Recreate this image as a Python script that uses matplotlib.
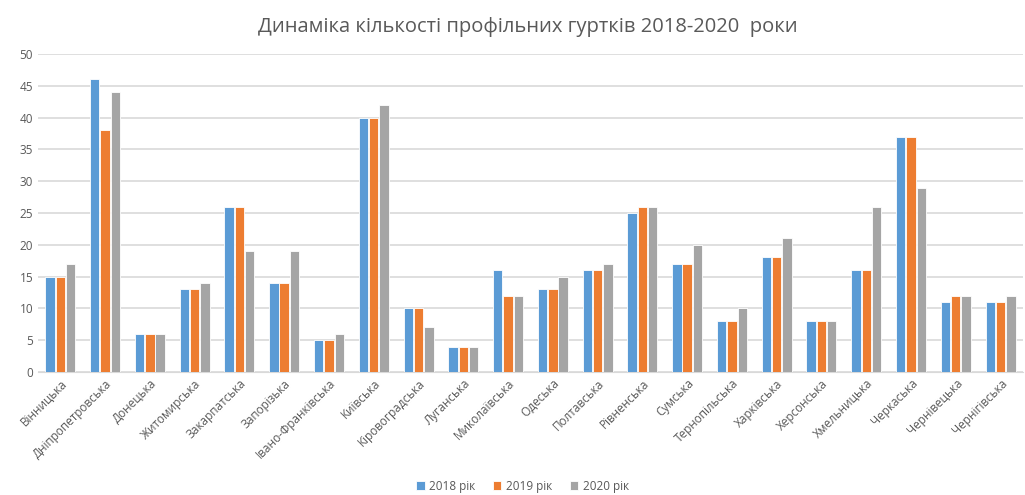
import numpy as np
import matplotlib
matplotlib.use("Agg")
import matplotlib.pyplot as plt

plt.rcParams['font.family'] = ['Open Sans', 'DejaVu Sans']

regions = ["Вінницька", "Дніпропетровська", "Донецька", "Житомирська", "Закарпатська",
           "Запорізька", "Івано-Франківська", "Київська", "Кіровоградська", "Луганська",
           "Миколаївська", "Одеська", "Полтавська", "Рівненська", "Сумська",
           "Тернопільська", "Харківська", "Херсонська", "Хмельницька", "Черкаська",
           "Чернівецька", "Чернігівська"]
y2018 = [15, 46, 6, 13, 26, 14, 5, 40, 10, 4, 16, 13, 16, 25, 17, 8, 18, 8, 16, 37, 11, 11]
y2019 = [15, 38, 6, 13, 26, 14, 5, 40, 10, 4, 12, 13, 16, 26, 17, 8, 18, 8, 16, 37, 12, 11]
y2020 = [17, 44, 6, 14, 19, 19, 6, 42, 7, 4, 12, 15, 17, 26, 20, 10, 21, 8, 26, 29, 12, 12]
series = ["2018 рік", "2019 рік", "2020 рік"]
colors = ["#5b9bd5", "#ed7d31", "#a5a5a5"]

fig = plt.figure(figsize=(10.25, 4.95), dpi=100)
ax = fig.add_axes([0.037, 0.2485, 0.961, 0.6425])

x = np.arange(len(regions))
w = 0.21
for i, (vals, name, c) in enumerate(zip([y2018, y2019, y2020], series, colors)):
    ax.bar(x + (i - 1) * (w + 0.02), vals, w, color=c, edgecolor='white',
           linewidth=0.6, label=name, zorder=3)

ax.set_ylim(0, 50)
ax.set_xlim(-0.5, len(regions) - 0.5)
ax.set_yticks(range(0, 51, 5))
ax.grid(axis='y', color='#d9d9d9', linewidth=1.2, zorder=0)
for s in ['top', 'right', 'left']:
    ax.spines[s].set_visible(False)
ax.spines['bottom'].set_color('#d9d9d9')
ax.tick_params(axis='both', length=0, labelsize=8.5, labelcolor='#595959')
ax.set_xticks(x)
ax.set_xticklabels(regions, rotation=45, ha='right', rotation_mode='anchor')

fig.text(0.515, 0.945, "Динаміка кількості профільних гуртків 2018-2020  роки",
         ha='center', va='center', fontsize=14.5, color='#595959')

fig.legend(loc='center', bbox_to_anchor=(0.51, 0.018), ncol=3, frameon=False,
           fontsize=8.5, labelcolor='#595959', handlelength=0.7, handleheight=0.7,
           columnspacing=1.5, handletextpad=0.4, borderpad=0.1)

fig.savefig("out.png", dpi=100)
